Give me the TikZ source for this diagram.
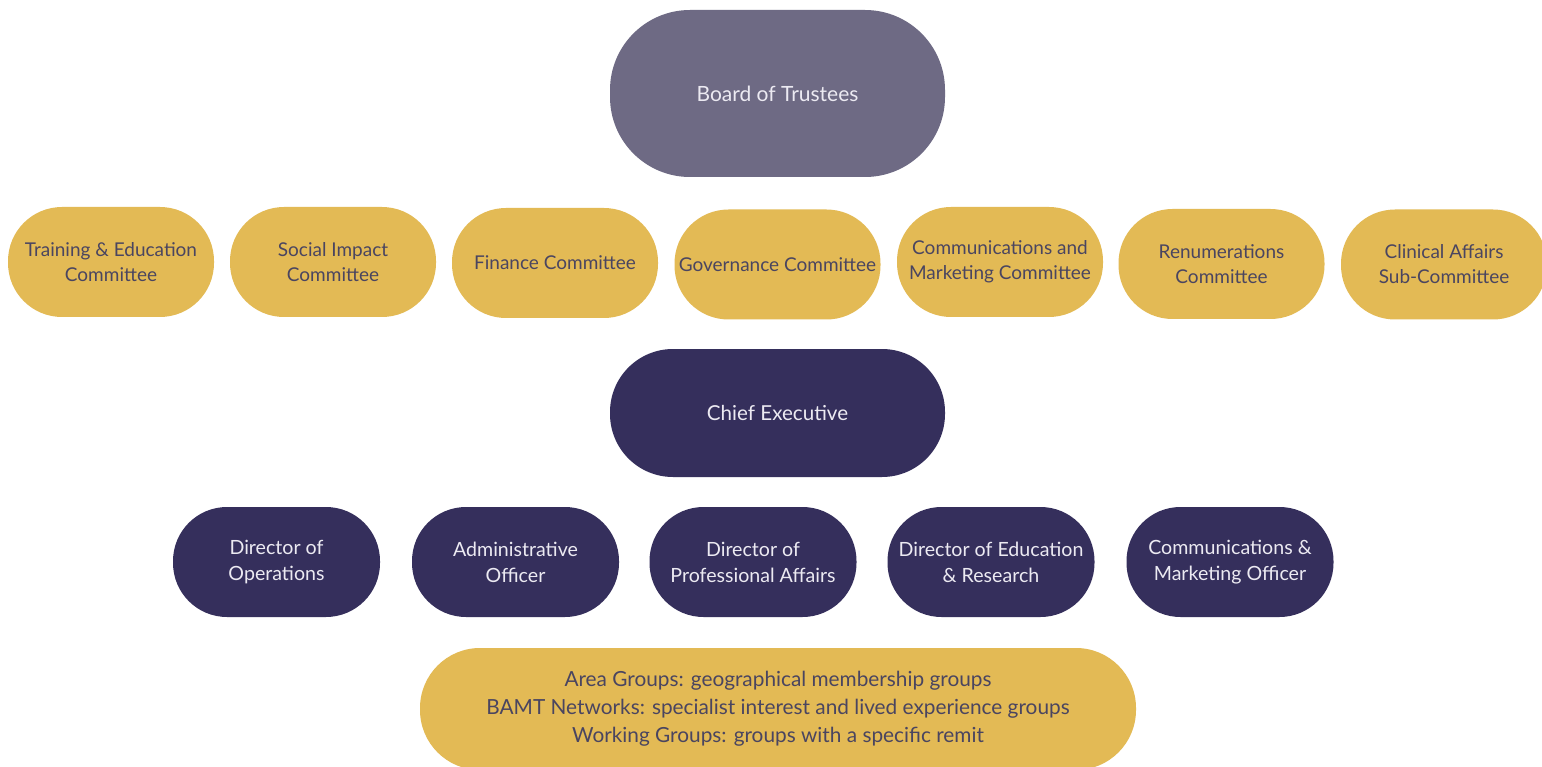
\documentclass[tikz,border=0pt]{standalone}
\usepackage{fontspec}
\setmainfont{Lato}
\definecolor{boardc}{HTML}{6E6A84}
\definecolor{darkc}{HTML}{352F5C}
\definecolor{yell}{HTML}{E3BA55}
\definecolor{ytext}{HTML}{4A4560}
\definecolor{wtext}{HTML}{ECEAF2}
\begin{document}
\begin{tikzpicture}[x=1pt,y=-1pt,
  pill/.style={rectangle, inner sep=0pt, align=center, font=\fontsize{19}{25}\selectfont},
  ybox/.style={pill, fill=yell, text=ytext, minimum width=206pt, minimum height=110pt, rounded corners=54pt},
  dbox/.style={pill, fill=darkc, text=wtext, minimum width=207pt, minimum height=110pt, rounded corners=54pt, font=\fontsize{19.6}{26}\selectfont},
  bigbox/.style={pill, minimum width=335pt, text=wtext}]
\useasboundingbox (0,0) rectangle (1542,767);
\clip (0,0) rectangle (1542,767);
\fill[white] (0,0) rectangle (1542,767);
\node[bigbox, fill=boardc, minimum height=167pt, rounded corners=80pt, font=\fontsize{21}{26}\selectfont] (board) at (777.5,93.5) {Board of Trustees};
\node[ybox] (train) at (111,262) {Training \& Education\\Committee};
\node[ybox] (social) at (333,262) {Social Impact\\Committee};
\node[ybox] (fin) at (555,263) {Finance Committee};
\node[ybox] (gov) at (777.5,264.5) {Governance Committee};
\node[ybox] (comm) at (1000,262) {Communications and\\Marketing Committee};
\node[ybox] (renum) at (1221.5,264) {Renumerations\\Committee};
\node[ybox] (clin) at (1444,264.5) {Clinical Affairs\\Sub-Committee};
\node[bigbox, fill=darkc, minimum height=128pt, rounded corners=63pt, font=\fontsize{20.6}{26}\selectfont] (chief) at (777.5,413) {Chief Executive};
\node[dbox] (ops) at (276.5,562) {Director of\\Operations};
\node[dbox] (admin) at (515.5,562) {Administrative\\Officer};
\node[dbox] (prof) at (753,562) {Director of\\Professional Affairs};
\node[dbox] (edu) at (991,562) {Director of Education\\\& Research};
\node[dbox] (mkt) at (1230,562) {Communications \&\\Marketing Officer};
\node[pill, fill=yell, text=ytext, minimum width=716pt, minimum height=122pt, rounded corners=60pt, font=\fontsize{20.8}{28}\selectfont] (groups) at (778,709) {Area Groups: geographical membership groups\\BAMT Networks: specialist interest and lived experience groups\\Working Groups: groups with a specific remit};
\end{tikzpicture}
\end{document}
